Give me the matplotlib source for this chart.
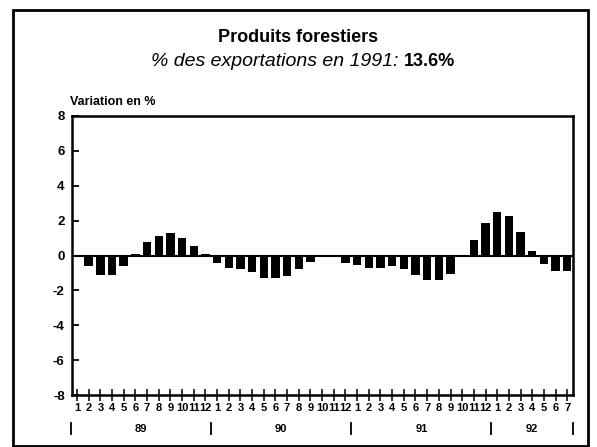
import matplotlib.pyplot as plt
import matplotlib.transforms as mtransforms
from matplotlib.patches import Rectangle

plt.rcParams['font.family'] = ['Liberation Sans', 'DejaVu Sans']

# monthly variation in %, Jan 1989 .. Jul 1992
variation = [0.05, -0.6, -1.1, -1.1, -0.6, 0.1, 0.78, 1.1, 1.3, 1.0, 0.55, 0.08,
             -0.45, -0.7, -0.8, -0.95, -1.3, -1.3, -1.15, -0.8, -0.4, -0.05, -0.05, -0.45,
             -0.55, -0.7, -0.7, -0.6, -0.75, -1.1, -1.4, -1.4, -1.05, 0.05, 0.9, 1.88,
             2.5, 2.27, 1.32, 0.23, -0.5, -0.87, -0.9]
months = [str(m) for m in range(1, 13)] * 3 + [str(m) for m in range(1, 8)]
years = ['89', '90', '91', '92']
year_centers = [5.5, 17.5, 29.5, 39]
year_bounds = [-0.5, 11.5, 23.5, 35.5, 42.5]
yticks = [-8, -6, -4, -2, 0, 2, 4, 6, 8]

fig = plt.figure(figsize=(5.97, 4.47), dpi=100)
ax = fig.add_axes([0.120, 0.1163, 0.8393, 0.6242])

x = list(range(len(variation)))
ax.bar(x, variation, width=0.72, color='black')
ax.axhline(0, color='black', lw=1.5)

ax.set_xlim(-0.46, 42.47)
ax.set_ylim(-8, 8)
ax.set_yticks(yticks)
ax.set_yticklabels([str(v) for v in yticks], fontweight='bold', fontsize=9.5)
ax.tick_params(axis='y', direction='in', length=5, width=1.3, pad=5)
ax.set_xticks(x)
ax.set_xticklabels(months, fontweight='bold', fontsize=8)
ax.tick_params(axis='x', direction='inout', length=8, width=1.1, pad=1.5)
for s in ax.spines.values():
    s.set_linewidth(1.8)

trans = mtransforms.blended_transform_factory(ax.transData, ax.transAxes)
for xc, yr in zip(year_centers, years):
    ax.text(xc, -0.122, yr, transform=trans, ha='center', va='center',
            fontweight='bold', fontsize=8)
for xb in year_bounds:
    ax.plot([xb, xb], [-0.100, -0.140], transform=trans, color='black',
            lw=1.3, clip_on=False)

fig.text(0.117, 0.772, 'Variation en %', fontweight='bold', fontsize=9,
         ha='left', va='center')

fig.text(0.5, 0.915, 'Produits forestiers', fontweight='bold', fontsize=13,
         ha='center', va='center')
fig.text(0.668, 0.862, '% des exportations en 1991:', style='italic', fontsize=14,
         ha='right', va='center')
fig.text(0.677, 0.862, '13.6%', fontweight='bold', fontsize=13,
         ha='left', va='center')

fig.add_artist(Rectangle((0.0218, 0.003), 0.963, 0.975, transform=fig.transFigure,
                         fill=False, edgecolor='black', lw=2))

fig.savefig('out.png', dpi=100)
